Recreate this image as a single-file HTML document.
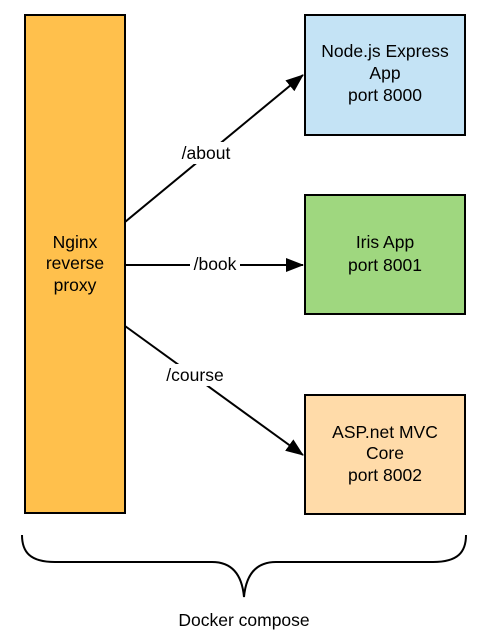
<!DOCTYPE html>
<html><head><meta charset="utf-8"><style>
html,body{margin:0;padding:0;background:#fff;}
svg{display:block;}
text{font-family:"Liberation Sans",Arial,sans-serif;font-size:17.5px;fill:#000;}
</style></head><body>
<svg width="481" height="638" viewBox="0 0 481 638" xmlns="http://www.w3.org/2000/svg">
<defs>
<marker id="b" markerWidth="18" markerHeight="14" refX="17" refY="7" orient="auto" markerUnits="userSpaceOnUse"><path d="M0,0 L18,7 L0,14 Z" fill="#000"/></marker></defs>
<rect x="25" y="15" width="100" height="498" fill="#FFC04C" stroke="#000" stroke-width="2"/>
<text x="75" y="248" text-anchor="middle">Nginx</text>
<text x="75" y="269" text-anchor="middle">reverse</text>
<text x="75" y="291" text-anchor="middle">proxy</text>
<rect x="305" y="15" width="160" height="120" fill="#C4E3F5" stroke="#000" stroke-width="2"/>
<text x="385" y="57" text-anchor="middle">Node.js Express</text>
<text x="385" y="79" text-anchor="middle">App</text>
<text x="385" y="101" text-anchor="middle">port 8000</text>
<rect x="305" y="195" width="160" height="119" fill="#9FD77F" stroke="#000" stroke-width="2"/>
<text x="385" y="248" text-anchor="middle">Iris App</text>
<text x="385" y="271" text-anchor="middle">port 8001</text>
<rect x="305" y="395" width="160" height="119" fill="#FFDBA9" stroke="#000" stroke-width="2"/>
<text x="385" y="438" text-anchor="middle">ASP.net MVC</text>
<text x="385" y="459" text-anchor="middle">Core</text>
<text x="385" y="481" text-anchor="middle">port 8002</text>
<line x1="125" y1="222" x2="303" y2="75" stroke="#000" stroke-width="2" marker-end="url(#b)"/>
<line x1="125" y1="265" x2="303" y2="265" stroke="#000" stroke-width="2" marker-end="url(#b)"/>
<line x1="125" y1="326" x2="303" y2="455" stroke="#000" stroke-width="2" marker-end="url(#b)"/>
<rect x="178" y="142" width="56" height="22" fill="#fff"/>
<text x="206" y="159" text-anchor="middle">/about</text>
<rect x="190" y="254" width="50" height="20" fill="#fff"/>
<text x="215" y="270" text-anchor="middle">/book</text>
<rect x="161" y="364" width="68" height="22" fill="#fff"/>
<text x="195" y="381" text-anchor="middle">/course</text>
<path d="M22,535 C22,552 30,562 55,562 L212,562 C232,562 242,575 244,597 C246,575 256,562 276,562 L433,562 C458,562 466,552 466,535" fill="none" stroke="#000" stroke-width="2"/>
<text x="244" y="626" text-anchor="middle">Docker compose</text>
</svg>
</body></html>
